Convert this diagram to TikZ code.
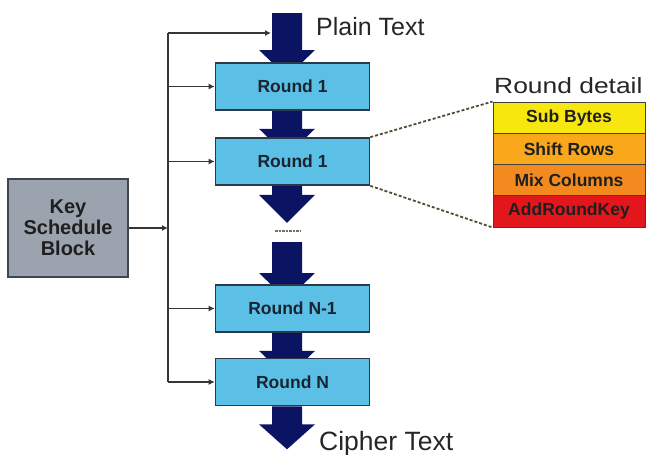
\documentclass[tikz,border=0pt]{standalone}
\usepackage{fontspec}
\setmainfont{Liberation Sans}
\usetikzlibrary{calc,arrows.meta}
\definecolor{navy}{HTML}{0A1463}
\definecolor{roundblue}{HTML}{5BBFE6}
\definecolor{boxline}{HTML}{2A3A4A}
\definecolor{keygray}{HTML}{9BA4AE}
\definecolor{keyline}{HTML}{3E464E}
\definecolor{sbyel}{HTML}{F7E70F}
\definecolor{srorg}{HTML}{F9A81C}
\definecolor{mcorg}{HTML}{F28A20}
\definecolor{arkred}{HTML}{E3161B}
\definecolor{dashcol}{HTML}{4E4E36}
\definecolor{buscol}{HTML}{363636}
\definecolor{txt}{HTML}{1A2430}
\pgfdeclarelayer{bg}
\pgfsetlayers{bg,main}
\newcommand\fatarr[3]{%
  \fill[navy] ($(#1)+(-15,0)$) -- ++(0,#2) -- ++(-13,0) -- ++(28,#3) -- ++(28,-#3) -- ++(-13,0) -- ++(0,-#2) -- cycle;}
\begin{document}
\begin{tikzpicture}[x=1pt,y=-1pt,
  rbox/.style={draw=boxline,line width=1.6pt,fill=roundblue,minimum width=154pt,minimum height=47pt,inner sep=0pt,font=\fontsize{17.5}{19}\selectfont\bfseries,text=txt},
  keybox/.style={draw=keyline,line width=2.2pt,fill=keygray,minimum width=120pt,minimum height=98pt,inner sep=0pt,align=center,font=\fontsize{20}{21}\selectfont\bfseries,text=black!88},
  dbox/.style={draw=black!75,line width=0.9pt,minimum width=152pt,minimum height=31.25pt,inner sep=0pt,font=\fontsize{17.5}{19}\selectfont\bfseries,text=black!88},
  bigtxt/.style={inner sep=0pt,anchor=base west,text=black!85},
  busline/.style={draw=buscol,line width=1.8pt},
  busarr/.style={draw=buscol,line width=1.5pt,-{Latex[length=6pt,width=6pt]}},
  dline/.style={draw=dashcol,line width=1.8pt,dash pattern=on 3pt off 2pt}]
\useasboundingbox (0,0) rectangle (646,455);

% rounds
\node[rbox] (r1) at (292.5,86.5) {Round 1};
\node[rbox] (r2) at (292.5,161.5) {Round 1};
\node[rbox] (rn1) at (292.5,308.5) {Round N-1};
\node[rbox] (rn) at (292.5,382) {Round N};

% key schedule
\node[keybox] (kb) at (68,228) {Key\\Schedule\\Block};

% detail stack
\node[dbox,fill=sbyel] (sb) at (569,117.6) {Sub Bytes};
\node[dbox,fill=srorg] (sr) at (569,148.9) {Shift Rows};
\node[dbox,fill=mcorg] (mc) at (569,180.1) {Mix Columns};
\node[dbox,fill=arkred] (ark) at (569,211.4) {AddRoundKey};
\node[bigtxt,font=\fontsize{22}{24}\selectfont,xscale=1.2] (rdl) at (494,93) {Round detail};

% labels
\node[bigtxt,font=\fontsize{25}{28}\selectfont] (pt) at (316,35) {Plain Text};
\node[bigtxt,font=\fontsize{26.5}{30}\selectfont] (ct) at (319,450) {Cipher Text};

% fat arrows
\coordinate (top) at (287,13);
\coordinate (mid) at (287,242);
\coordinate (a1) at ($(r1.south)+(-5.5,0)$);
\coordinate (a2) at ($(r2.south)+(-5.5,0)$);
\coordinate (a4) at ($(rn1.south)+(-5.5,0)$);
\coordinate (a5) at ($(rn.south)+(-5.5,0)$);
\begin{pgfonlayer}{bg}
\fatarr{top}{37}{27}
\fatarr{a1}{18}{27}
\fatarr{a2}{9}{28}
\fatarr{mid}{31}{27}
\fatarr{a4}{18}{27}
\fatarr{a5}{18}{25}
\end{pgfonlayer}

% dots between
\draw[draw=dashcol!80,line width=1.4pt,dash pattern=on 2.5pt off 1pt] (275,231) -- (300,231);

% bus
\coordinate (bt) at (168,33);
\coordinate (bb) at (168,382);
\coordinate (pin) at (271,33);
\draw[busline] (bt) -- (bb);
\draw[busarr] (bt) -- (pin);
\draw[busarr] (r1.west -| bt) -- (r1.west);
\draw[busarr] (r2.west -| bt) -- (r2.west);
\draw[busarr] (rn1.west -| bt) -- (rn1.west);
\draw[busarr] (rn.west -| bt) -- (rn.west);
\draw[busarr] (kb.east) -- (kb.east -| bt);

% detail connectors
\draw[dline] (r2.north east) -- (sb.north west);
\draw[dline] (r2.south east) -- (ark.south west);
\end{tikzpicture}
\end{document}
